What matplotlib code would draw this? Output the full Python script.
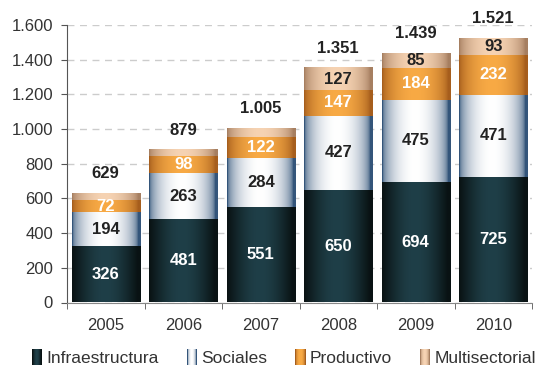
import numpy as np
import matplotlib
matplotlib.use("Agg")
import matplotlib.pyplot as plt
from matplotlib.patches import Rectangle
from matplotlib.legend_handler import HandlerBase
from matplotlib.colors import to_rgb

plt.rcParams["font.family"] = ["Liberation Sans", "DejaVu Sans"]

years = ["2005", "2006", "2007", "2008", "2009", "2010"]
infra = [326, 481, 551, 650, 694, 725]
sociales = [194, 263, 284, 427, 475, 471]
productivo = [72, 98, 122, 147, 184, 232]
multi = [37, 37, 48, 127, 85, 93]
totals = [629, 879, 1005, 1351, 1439, 1521]
yticks = [0, 200, 400, 600, 800, 1000, 1200, 1400, 1600]

series = [
    ("Infraestructura", infra, "#091213", "#1f3f48", "white", False, 1.0),
    ("Sociales", sociales, "#34557a", "#ffffff", "#222222", False, 0.45),
    ("Productivo", productivo, "#a65e1d", "#f8aa45", "white", False, 0.6),
    ("Multisectorial", multi, "#a67f61", "#f6d3b3", "#222222", True, 0.6),
]

def grad_colors(edge, center, p, n=64):
    t = np.linspace(0, 1, n)
    w = np.sin(np.pi * np.clip(t * 1.04, 0, 1)) ** p
    e = np.array(to_rgb(edge)); c = np.array(to_rgb(center))
    return (e[None, :] * (1 - w[:, None]) + c[None, :] * w[:, None])

fig = plt.figure(figsize=(5.38, 3.68), dpi=100)
ax = fig.add_axes([67/538, 1 - 302.5/368, (532 - 67)/538, (302.5 - 25)/368])

width = 0.88
x = np.arange(len(years))
bottoms = np.zeros(len(years))
for name, vals, edge, center, tcol, is_multi, p in series:
    cols = grad_colors(edge, center, p)
    img = cols[None, :, :]
    for i, v in enumerate(vals):
        x0 = x[i] - width / 2
        ax.imshow(img, extent=[x0, x0 + width, bottoms[i], bottoms[i] + v],
                  aspect="auto", interpolation="bilinear", zorder=3)
        show = (not is_multi) or v >= 60
        if show:
            ax.text(x[i], bottoms[i] + v / 2, f"{v}", ha="center", va="center",
                    color=tcol, fontsize=12, fontweight="bold", zorder=5)
    bottoms += np.array(vals)

for i, t in enumerate(totals):
    s = f"{t:,}".replace(",", ".")
    ax.annotate(s, (x[i], bottoms[i]), xytext=(0, 9), textcoords="offset points",
                ha="center", va="bottom", fontsize=12, fontweight="bold",
                color="#222222", annotation_clip=False)

ax.set_xlim(-0.5, len(years) - 0.5)
ax.set_ylim(0, 1600)
ax.set_yticks(yticks)
ax.set_yticklabels([f"{v:,}".replace(",", ".") for v in yticks], fontsize=12, color="#333333")
ax.set_xticks(x)
ax.set_xticklabels(years, fontsize=12, color="#333333")
ax.tick_params(axis="x", length=0, pad=11)
ax.set_xticks(np.arange(-0.5, len(years)), minor=True)
ax.tick_params(axis="x", which="minor", length=4, color="#555555", direction="out")
ax.tick_params(axis="y", length=4, color="#555555", direction="out", pad=6)
ax.grid(axis="y", linestyle=(0, (5, 4)), color="#cccccc", linewidth=1.0, zorder=0)
ax.set_axisbelow(True)
for s in ["top", "right"]:
    ax.spines[s].set_visible(False)
ax.spines["left"].set_color("#555555")
ax.spines["bottom"].set_color("#888888")


class GradHandler(HandlerBase):
    def __init__(self, edge, center, p):
        super().__init__()
        self.edge, self.center, self.p = edge, center, p

    def create_artists(self, legend, orig_handle, xdescent, ydescent, width, height, fontsize, trans):
        cols = grad_colors(self.edge, self.center, self.p, 10)
        arts = []
        h = height * 1.25
        y0 = -ydescent - (h - height) / 2
        w = width / len(cols)
        for k, c in enumerate(cols):
            r = Rectangle((-xdescent + k * w, y0), w * 1.02, h, facecolor=c,
                          edgecolor="none", transform=trans)
            arts.append(r)
        return arts


handles = []
hmap = {}
for name, vals, edge, center, tcol, is_multi, p in series:
    r = Rectangle((0, 0), 1, 1)
    handles.append(r)
    hmap[r] = GradHandler(edge, center, p)

fig.legend(handles, [s[0] for s in series], handler_map=hmap, loc="center",
           bbox_to_anchor=(0.528, 1 - 358/368), ncol=4, frameon=False,
           fontsize=12.5, handlelength=0.6, handleheight=0.75, handletextpad=0.25,
           columnspacing=1.6, labelcolor="#333333")

fig.savefig("out.png", dpi=100)
